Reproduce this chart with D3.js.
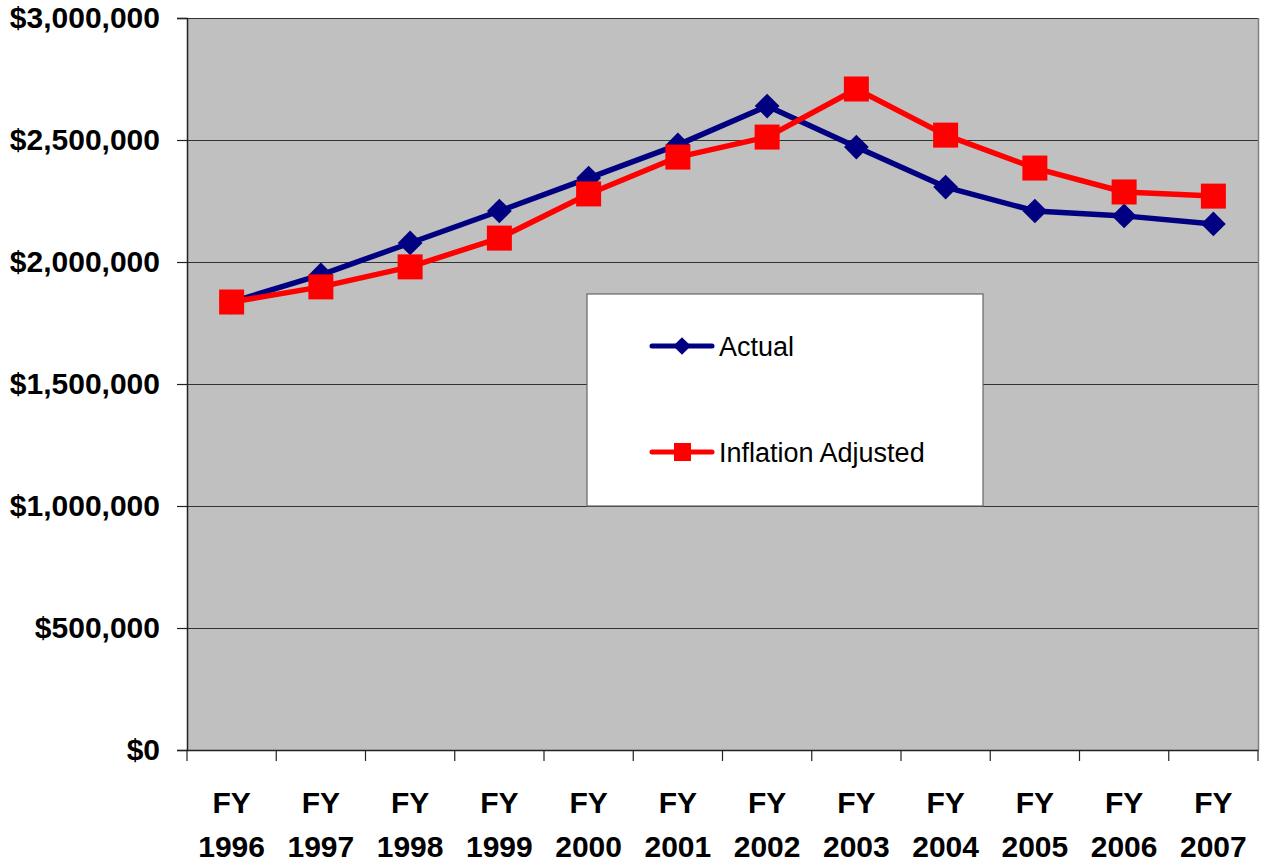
<!DOCTYPE html>
<html><head><meta charset="utf-8">
<script src="https://cdn.jsdelivr.net/npm/d3@7"></script>
<style>body{margin:0;background:#fff;} svg{display:block;}</style>
</head><body>
<svg id="c" width="1263" height="866"></svg>
<script>
const categories = ["1996","1997","1998","1999","2000","2001","2002","2003","2004","2005","2006","2007"];
const actual = [1836000,1947000,2078000,2209000,2344000,2480000,2639000,2471000,2307000,2209000,2189000,2156000];
const inflationAdjusted = [1836000,1898000,1980000,2098000,2279000,2430000,2512000,2709000,2520000,2385000,2287000,2270000];
const yTicks = [0,500000,1000000,1500000,2000000,2500000,3000000];
const seriesNames = ["Actual","Inflation Adjusted"];

const svg = d3.select("#c");
const L=187, R=1258, T=18, B=750;
const x = d3.scaleBand().domain(categories).range([L,R]).padding(0);
const y = d3.scaleLinear().domain([0,3000000]).range([B,T]);
const fmt = v => "$" + d3.format(",")(v);
const FONT = "Liberation Sans, Arial, sans-serif";

svg.append("rect").attr("x",L).attr("y",T).attr("width",R-L).attr("height",B-T).attr("fill","#c0c0c0");
svg.append("g").selectAll("line").data(yTicks.filter(d=>d>0)).join("line")
  .attr("x1",L).attr("x2",R).attr("y1",d=>Math.round(y(d))+0.5).attr("y2",d=>Math.round(y(d))+0.5)
  .attr("stroke","#333").attr("stroke-width",1.2);
svg.append("line").attr("x1",R+0.5).attr("x2",R+0.5).attr("y1",T).attr("y2",B).attr("stroke","#808080").attr("stroke-width",1.5);

const yAxis = svg.append("g").attr("transform",`translate(${L},0)`)
  .call(d3.axisLeft(y).tickValues(yTicks).tickFormat(fmt).tickSize(10).tickPadding(17));
yAxis.select(".domain").attr("stroke","#222").attr("stroke-width",1.5);
yAxis.selectAll(".tick line").attr("stroke","#222").attr("stroke-width",1.2);
yAxis.selectAll("text").attr("font-family",FONT).attr("font-weight","bold")
  .attr("font-size",30).attr("fill","#000");

const xAxis = svg.append("g").attr("transform",`translate(0,${B})`)
  .call(d3.axisBottom(x).tickSize(0).tickFormat(""));
xAxis.select(".domain").attr("stroke","#222").attr("stroke-width",1.5);
const bounds = categories.map(c=>x(c)).concat([R]);
svg.append("g").selectAll("line").data(bounds).join("line")
  .attr("x1",d=>d).attr("x2",d=>d).attr("y1",B).attr("y2",B+11).attr("stroke","#222").attr("stroke-width",1.2);
const xl = svg.append("g").selectAll("g").data(categories).join("g")
  .attr("transform",d=>`translate(${x(d)+x.bandwidth()/2},0)`);
xl.append("text").attr("y",813).text("FY");
xl.append("text").attr("y",857).text(d=>d);
xl.selectAll("text").attr("text-anchor","middle").attr("font-family",FONT)
  .attr("font-weight","bold").attr("font-size",30).attr("fill","#000");

const cx = d => x(d)+x.bandwidth()/2;
const line = d3.line().x((d,i)=>cx(categories[i])).y(d=>y(d));

const lg = svg.append("g");
lg.append("rect").attr("x",587).attr("y",294).attr("width",396).attr("height",212).attr("fill","#fff").attr("stroke","#666").attr("stroke-width",1.2);

svg.append("path").datum(actual).attr("d",line).attr("fill","none").attr("stroke","#000080").attr("stroke-width",5.5).attr("stroke-linejoin","round");
svg.append("path").datum(inflationAdjusted).attr("d",line).attr("fill","none").attr("stroke","#ff0000").attr("stroke-width",5.5).attr("stroke-linejoin","round");
const dia = d3.symbol().type(d3.symbolDiamond2).size(390);
svg.append("g").selectAll("path").data(actual).join("path")
  .attr("d",dia).attr("transform",(d,i)=>`translate(${cx(categories[i])},${y(d)})`).attr("fill","#000080");
svg.append("g").selectAll("rect").data(inflationAdjusted).join("rect")
  .attr("x",(d,i)=>cx(categories[i])-12.5).attr("y",d=>y(d)-12.5).attr("width",25).attr("height",25).attr("fill","#ff0000");

const colors = ["#000080","#ff0000"];
const ly = [346,452];
seriesNames.forEach((n,i)=>{
  const g = lg.append("g");
  g.append("line").attr("x1",652).attr("x2",712).attr("y1",ly[i]).attr("y2",ly[i]).attr("stroke",colors[i]).attr("stroke-width",5).attr("stroke-linecap","round");
  if(i===0){
    g.append("path").attr("d",d3.symbol().type(d3.symbolDiamond2).size(200)()).attr("transform",`translate(682,${ly[i]})`).attr("fill",colors[i]);
  } else {
    g.append("rect").attr("x",674).attr("y",ly[i]-9).attr("width",17).attr("height",18).attr("fill",colors[i]);
  }
  g.append("text").attr("x",719).attr("y",ly[i]+10).text(n).attr("font-family",FONT)
    .attr("font-size",27).attr("fill","#000");
});
</script>
</body></html>
